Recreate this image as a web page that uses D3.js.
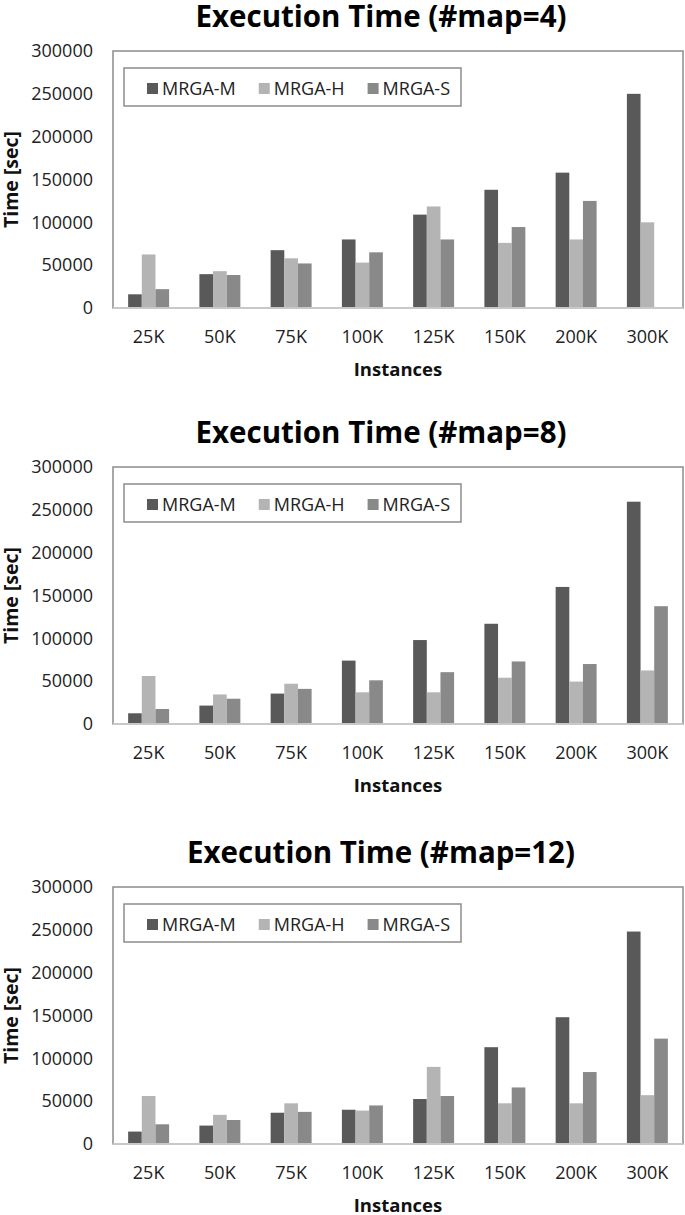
<!DOCTYPE html>
<html>
<head>
<meta charset="utf-8">
<script src="https://cdn.jsdelivr.net/npm/d3@7"></script>
<style>
  body { margin: 0; background: #fff; }
  text { font-family: "Open Sans", "Noto Sans", sans-serif; }
</style>
</head>
<body>
<script>
// chart data
var categories = ["25K", "50K", "75K", "100K", "125K", "150K", "200K", "300K"];
var seriesNames = ["MRGA-M", "MRGA-H", "MRGA-S"];
var yTicks = [0, 50000, 100000, 150000, 200000, 250000, 300000];
var titles = ["Execution Time (#map=4)", "Execution Time (#map=8)", "Execution Time (#map=12)"];

var map4M = [16000, 39500, 67500, 80000, 109000, 138000, 158000, 250000];
var map4H = [62500, 43000, 58000, 53000, 118500, 76000, 80000, 100000];
var map4S = [22000, 38500, 52000, 65000, 80000, 94500, 125000, 0];

var map8M = [12500, 21500, 35500, 74000, 98000, 117000, 160000, 259500];
var map8H = [56000, 34500, 47000, 37000, 37000, 54000, 49500, 62500];
var map8S = [17500, 29500, 41000, 51000, 60500, 73000, 70000, 137500];

var map12M = [14500, 21500, 36500, 40000, 52500, 113000, 148000, 248000];
var map12H = [56000, 34000, 47500, 39000, 90000, 47500, 47500, 57000];
var map12S = [23000, 28000, 37500, 45000, 56000, 66000, 84000, 123000];

var panels = [
    [map4M, map4H, map4S],
    [map8M, map8H, map8S],
    [map12M, map12H, map12S]
];
var panelOffsets = [0, 416, 836];

var colors = d3.scaleOrdinal().domain(seriesNames).range(["#595959", "#b4b4b4", "#898989"]);

var svg = d3.select("body").append("svg")
    .attr("width", 685)
    .attr("height", 1215);

var plotLeft = 113, plotRight = 683, plotTop = 51, plotBottom = 308;

var x0 = d3.scaleBand().domain(categories).range([plotLeft, plotRight])
    .paddingInner(0.425).paddingOuter(0.2125);
var x1 = d3.scaleBand().domain(seriesNames).range([0, x0.bandwidth()]);
var y = d3.scaleLinear().domain([0, 300000]).range([plotBottom, plotTop]);

panels.forEach(function(vals, p) {
    var g = svg.append("g").attr("transform", "translate(0," + panelOffsets[p] + ")");

    // title
    g.append("text")
        .attr("x", 381)
        .attr("y", 27)
        .attr("text-anchor", "middle")
        .attr("font-size", 29.5)
        .attr("font-weight", "bold")
        .attr("fill", "#000")
        .text(titles[p]);

    // plot area border
    g.append("rect")
        .attr("x", plotLeft)
        .attr("y", plotTop)
        .attr("width", plotRight - plotLeft)
        .attr("height", plotBottom - plotTop)
        .attr("fill", "#fff")
        .attr("stroke", "#8c8c8c")
        .attr("stroke-width", 1.5);

    // y axis labels
    var yAxis = d3.axisLeft(y).tickValues(yTicks).tickSize(0).tickPadding(0)
        .tickFormat(d3.format("d"));
    var ya = g.append("g").attr("transform", "translate(93,0)").call(yAxis);
    ya.select(".domain").remove();
    ya.selectAll("text")
        .attr("font-size", 18)
        .attr("fill", "#222")
        .style("font-family", "'Open Sans', sans-serif");

    // bars
    var rows = categories.map(function(c, i) {
        return seriesNames.map(function(s, k) {
            return { cat: c, name: s, value: vals[k][i] };
        });
    });
    g.selectAll("g.grp")
        .data(rows)
        .enter()
        .append("g")
        .attr("class", "grp")
        .attr("transform", function(d) { return "translate(" + x0(d[0].cat) + ",0)"; })
        .selectAll("rect")
        .data(function(d) { return d; })
        .enter()
        .append("rect")
        .attr("x", function(d) { return x1(d.name); })
        .attr("width", x1.bandwidth())
        .attr("y", function(d) { return y(d.value); })
        .attr("height", function(d) { return y(0) - y(d.value); })
        .attr("fill", function(d) { return colors(d.name); });

    // baseline
    g.append("line")
        .attr("x1", plotLeft)
        .attr("x2", plotRight)
        .attr("y1", y(0))
        .attr("y2", y(0))
        .attr("stroke", "#c8c8c8")
        .attr("stroke-width", 2);

    // x axis labels
    var xAxis = d3.axisBottom(x0).tickSize(0).tickPadding(0);
    var xa = g.append("g").attr("transform", "translate(0,343)").call(xAxis);
    xa.select(".domain").remove();
    xa.selectAll("text")
        .attr("dy", 0)
        .attr("y", 0)
        .attr("font-size", 18)
        .attr("fill", "#222")
        .style("font-family", "'Open Sans', sans-serif");

    // axis titles
    g.append("text")
        .attr("x", (plotLeft + plotRight) / 2)
        .attr("y", 376)
        .attr("text-anchor", "middle")
        .attr("font-size", 18.5)
        .attr("font-weight", "bold")
        .attr("fill", "#111")
        .text("Instances");

    g.append("text")
        .attr("transform", "translate(18," + ((plotTop + plotBottom) / 2) + ") rotate(-90)")
        .attr("text-anchor", "middle")
        .attr("font-size", 19.5)
        .attr("font-weight", "bold")
        .attr("fill", "#111")
        .text("Time [sec]");

    // legend
    var lg = g.append("g");
    lg.append("rect")
        .attr("x", 124)
        .attr("y", 68)
        .attr("width", 337)
        .attr("height", 38)
        .attr("fill", "#fff")
        .attr("stroke", "#8c8c8c")
        .attr("stroke-width", 1.5);
    var lx = 147;
    seriesNames.forEach(function(s) {
        lg.append("rect")
            .attr("x", lx)
            .attr("y", 83)
            .attr("width", 11)
            .attr("height", 11)
            .attr("fill", colors(s));
        var t = lg.append("text")
            .attr("x", lx + 15)
            .attr("y", 95)
            .attr("font-size", 18)
            .attr("fill", "#222")
            .text(s);
        lx += 15 + t.node().getComputedTextLength() + 23;
    });
});
</script>
</body>
</html>
